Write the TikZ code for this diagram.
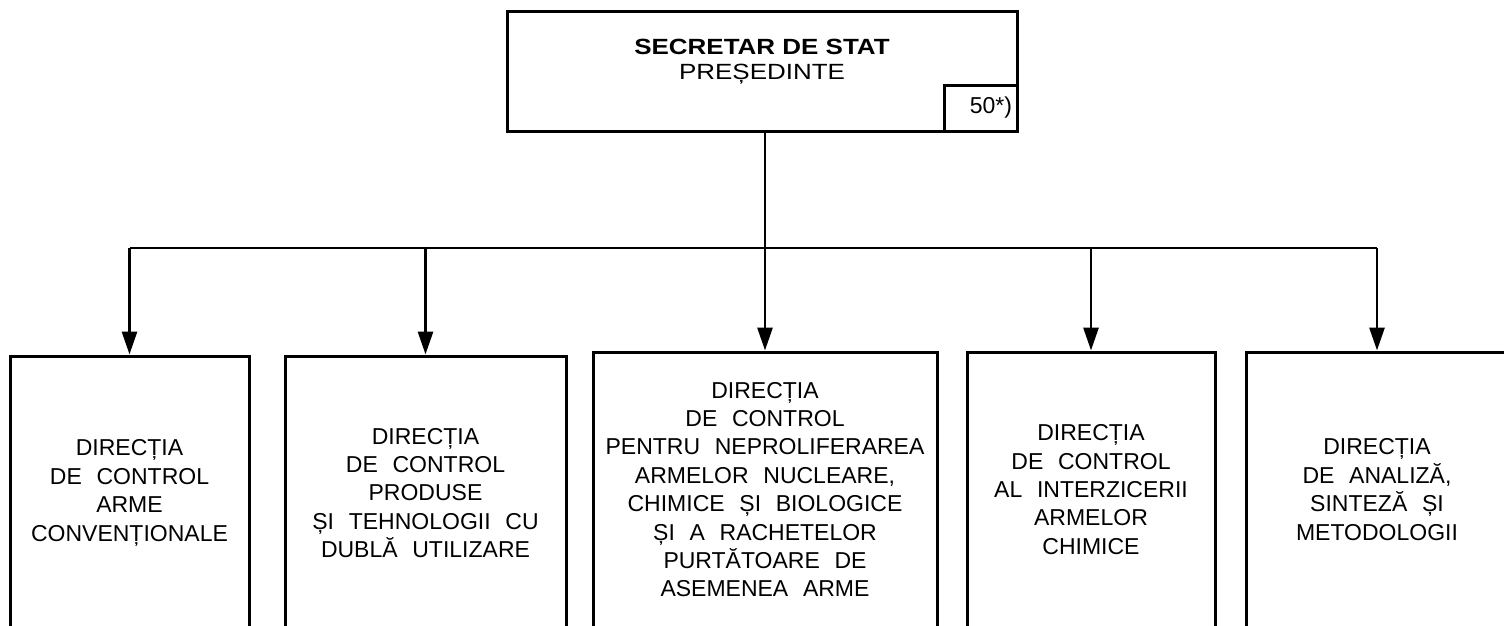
\documentclass[tikz,border=0pt]{standalone}
\usepackage{fontspec}
\setmainfont{Liberation Sans}[WordSpace=2.3]
\newfontfamily\titlefont{Liberation Sans}[FakeStretch=1.18]
\usetikzlibrary{arrows.meta}
\begin{document}
\begin{tikzpicture}[x=1pt, y=-1pt, line join=miter, >={Triangle[length=23pt,width=15pt]},
  font=\fontsize{23}{28.4}\selectfont,
  dirbox/.style={draw, line width=3pt, inner sep=0pt, align=center},
  link/.style={line width=2.9pt}]
  \useasboundingbox (0,0) rectangle (1504,626);
  \clip (0,0) rectangle (1504,626);
  % secretar de stat
  \node[dirbox, minimum width=510pt, minimum height=119pt] (sec) at (762,71.5) {};
  \node[align=center, inner sep=0pt, font=\titlefont\fontsize{22}{25}\selectfont] (sectitle) at (762,61.6)
    {{\bfseries SECRETAR DE STAT}\\PREȘEDINTE};
  \node[dirbox, anchor=south east, text width=63pt, align=right, inner xsep=5pt,
    minimum height=46pt] (num) at (sec.south east) {50*)};
  % directii
  \node[dirbox, minimum width=239pt, minimum height=274pt] (d1) at (129.5,493)
    {DIRECȚIA\\DE CONTROL\\ARME\\CONVENȚIONALE};
  \node[dirbox, minimum width=281pt, minimum height=274pt] (d2) at (425.5,493)
    {DIRECȚIA\\DE CONTROL\\PRODUSE\\ȘI TEHNOLOGII CU\\DUBLĂ UTILIZARE};
  \node[dirbox, minimum width=344pt, minimum height=275pt] (d3) at (765,489.5)
    {DIRECȚIA\\DE CONTROL\\PENTRU NEPROLIFERAREA\\ARMELOR NUCLEARE,\\CHIMICE ȘI BIOLOGICE\\ȘI A RACHETELOR\\PURTĂTOARE DE\\ASEMENEA ARME};
  \node[dirbox, minimum width=248pt, minimum height=275pt] (d4) at (1091,489.5)
    {DIRECȚIA\\DE CONTROL\\AL INTERZICERII\\ARMELOR\\CHIMICE};
  \node[dirbox, minimum width=262pt, minimum height=275pt] (d5) at (1377,489.5)
    {DIRECȚIA\\DE ANALIZĂ,\\SINTEZĂ ȘI\\METODOLOGII};
  % legaturi
  \coordinate (bus) at (765,248);
  \draw[link] (sec.south -| bus) -- (bus);
  \draw[link] (bus -| d1.north) -- (bus -| d5.north);
  \foreach \d in {d1,d2,d3,d4,d5}
    \draw[link,->] (bus -| \d.north) -- (\d.north);
\end{tikzpicture}
\end{document}
